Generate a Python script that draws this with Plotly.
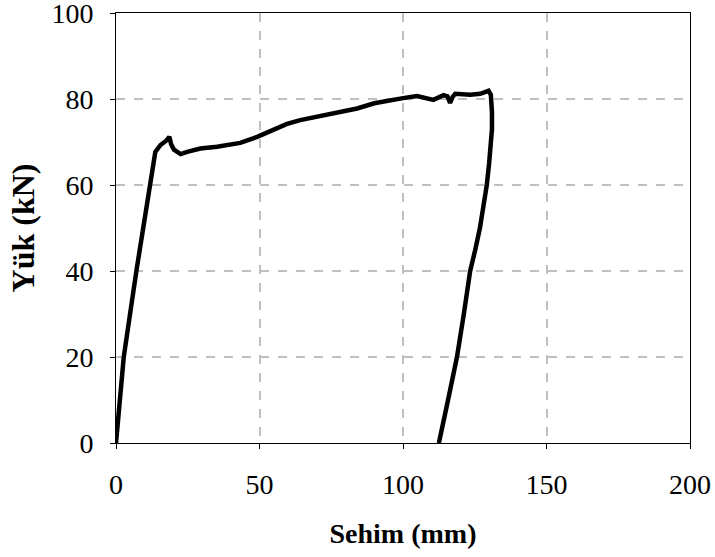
import plotly.graph_objects as go

# Deflection (mm) and load (kN)
sehim = [0, 2.7, 7.1, 9.6, 12.0, 13.7, 15.5, 17.5, 18.6, 19.2, 20.2, 22.5, 24.8,
         29.4, 35.2, 43.3, 49.2, 54.8, 59.6, 64.2, 72.3, 78.0, 84.0, 90.0, 95.6, 100.0,
         104.9, 108.0, 110.6, 114.1, 115.5, 116.4, 117.3, 118.2, 123.4, 126.9, 129.8,
         130.6, 131.0, 131.0, 130.7, 130.0, 129.2, 128.1, 126.8, 125.2, 123.4, 121.2,
         118.8, 115.7, 112.5]
yuk = [0, 20, 40, 50, 60, 67.7, 69.3, 70.3, 71.2, 69.5, 68.2, 67.2, 67.7,
       68.5, 68.9, 69.8, 71.2, 72.8, 74.2, 75.1, 76.3, 77.0, 77.8, 79.0, 79.8, 80.2,
       80.7, 80.2, 79.8, 80.9, 80.6, 79.1, 80.5, 81.2, 81.0, 81.2, 81.9,
       81.0, 77.0, 73.0, 70.0, 65.0, 60.0, 55.0, 50.0, 45.0, 40.0, 30.0,
       20.0, 10.0, 0.0]

x_ticks = [0, 50, 100, 150, 200]
y_ticks = [0, 20, 40, 60, 80, 100]

fig = go.Figure()
fig.add_trace(go.Scatter(x=sehim, y=yuk, mode="lines",
                         line=dict(color="black", width=4.5),
                         showlegend=False, cliponaxis=False))

font_family = "Liberation Serif, Times New Roman, serif"
axis_common = dict(
    showline=True, linecolor="black", linewidth=1, mirror=True,
    ticks="outside", ticklen=5, tickcolor="black", tickwidth=1,
    showgrid=True, gridcolor="#c0c0c0", gridwidth=1.5, griddash="dash",
    zeroline=False, ticklabeloverflow="allow", automargin=False,
    tickfont=dict(family=font_family, size=28, color="black"),
)

fig.update_layout(
    width=715, height=557,
    margin=dict(l=116, r=25, t=13, b=114),
    paper_bgcolor="white", plot_bgcolor="white",
    xaxis=dict(range=[0, 200], tickvals=x_ticks, ticklabelstandoff=11,
               title=dict(text="<b>Sehim (mm)</b>", standoff=24,
                          font=dict(family=font_family, size=28, color="black")),
               **axis_common),
    yaxis=dict(range=[0, 100], tickvals=y_ticks, ticklabelstandoff=11,
               title=dict(text="<b>Yük (kN)</b>", standoff=7,
                          font=dict(family=font_family, size=32, color="black")),
               **axis_common),
)

fig.write_html("out.html")
